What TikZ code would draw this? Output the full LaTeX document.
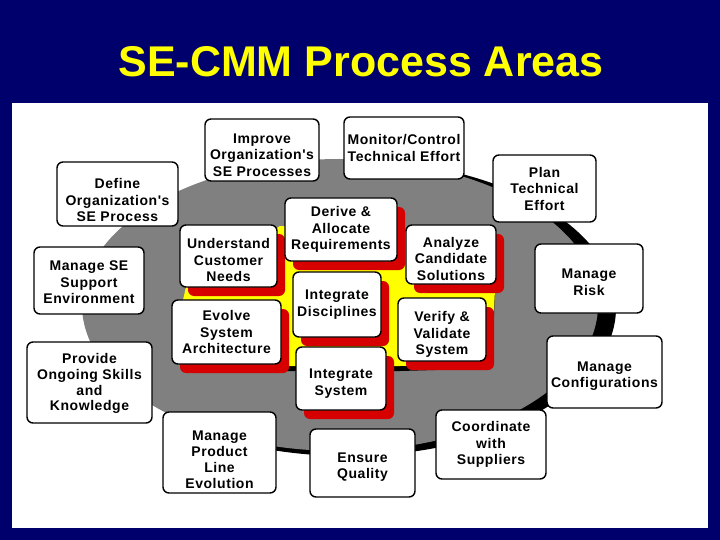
\documentclass[tikz,border=0pt]{standalone}
\usepackage{fontspec}
\setmainfont{Liberation Sans}
\newfontfamily\boxfont{Liberation Sans}[LetterSpace=4]
\usetikzlibrary{shadows}
\definecolor{navy}{RGB}{0,0,108}
\definecolor{blobgray}{RGB}{128,128,128}
\definecolor{shred}{RGB}{214,0,0}
\definecolor{cyel}{RGB}{255,255,0}
\tikzset{
  obox/.style={draw=black, line width=1.4pt, fill=white, rounded corners=6pt,
    inner sep=0pt},
  ibox/.style={obox, drop shadow={shadow xshift=8pt, shadow yshift=-9pt,
    fill=shred, opacity=1}},
  txt/.style={inner sep=0pt, align=center, text=black,
    font=\boxfont\bfseries\fontsize{14}{16.5}\selectfont},
  txttight/.style={txt, font=\boxfont\bfseries\fontsize{14}{15.9}\selectfont},
}
\begin{document}
\begin{tikzpicture}[x=1pt,y=-1pt]
\useasboundingbox (0,0) rectangle (720,540);
\fill[navy] (0,0) rectangle (720,540);
\fill[white] (12,103) rectangle (708,528);
\node[anchor=base, text=cyel, font=\bfseries\fontsize{43}{50}\selectfont] (title) at (361,77) {SE-CMM Process Areas};
% gray blob with dark rim on the right
\begin{scope}
  \clip (250,100) rectangle (710,530);
  \fill[black] (348,308) ellipse [x radius=268, y radius=148];
\end{scope}
\fill[blobgray] (340,305) ellipse [x radius=258, y radius=146];
% yellow core
\fill[black] (280,231) -- (400,233) -- (406,237) -- (495,295) -- (494,315) -- (470,369) -- (400,371) -- (290,371) -- (250,371) -- (183,305) -- (186,292) -- cycle;
\fill[cyel] (280,226) -- (400,228) -- (406,232) -- (495,290) -- (494,310) -- (470,364) -- (400,366) -- (290,366) -- (250,366) -- (183,300) -- (186,287) -- cycle;
% outer process areas
\node[obox, minimum width=114pt, minimum height=62pt] (improve) at (262,150) {};
\node[txt] (improvet) at ([yshift=-5pt]improve.center) {Improve\\Organization's\\SE Processes};
\node[obox, minimum width=120pt, minimum height=62pt] (monitor) at (404,148) {};
\node[txt] (monitort) at (monitor.center) {Monitor/Control\\Technical Effort};
\node[obox, minimum width=121pt, minimum height=64pt] (define) at (117.5,194) {};
\node[txt] (definet) at ([yshift=-6pt]define.center) {Define\\Organization's\\SE Process};
\node[obox, minimum width=103pt, minimum height=67pt] (plan) at (544.5,188.5) {};
\node[txt] (plant) at (plan.center) {Plan\\Technical\\Effort};
\node[obox, minimum width=110pt, minimum height=67pt] (managese) at (89,280.5) {};
\node[txt] (managest) at ([yshift=-2pt]managese.center) {Manage SE\\Support\\Environment};
\node[obox, minimum width=108pt, minimum height=69pt] (risk) at (589,278.5) {};
\node[txt] (riskt) at ([yshift=-4pt]risk.center) {Manage\\Risk};
\node[obox, minimum width=125pt, minimum height=81pt] (provide) at (89.5,382.5) {};
\node[txttight] (providet) at ([yshift=-1pt]provide.center) {Provide\\Ongoing Skills\\and\\Knowledge};
\node[obox, minimum width=115pt, minimum height=72pt] (config) at (604.5,372) {};
\node[txt] (configt) at ([yshift=-4pt]config.center) {Manage\\Configurations};
\node[obox, minimum width=113pt, minimum height=81pt] (product) at (219.5,452.5) {};
\node[txttight] (productt) at ([yshift=-7pt]product.center) {Manage\\Product\\Line\\Evolution};
\node[obox, minimum width=105pt, minimum height=68pt] (ensure) at (362.5,463) {};
\node[txt] (ensuret) at ([yshift=-4pt]ensure.center) {Ensure\\Quality};
\node[obox, minimum width=110pt, minimum height=69pt] (coord) at (491,444.5) {};
\node[txt] (coordt) at (coord.center) {Coordinate\\with\\Suppliers};
% inner engineering process areas
\node[ibox, minimum width=97pt, minimum height=62pt] (understand) at (228.5,256) {};
\node[txt] (understandt) at ([yshift=-4pt]understand.center) {Understand\\Customer\\Needs};
\node[ibox, minimum width=112pt, minimum height=63pt] (derive) at (341,229.5) {};
\node[txt] (derivet) at (derive.center) {Derive \&\\Allocate\\Requirements};
\node[ibox, minimum width=90pt, minimum height=59pt] (analyze) at (451,254.5) {};
\node[txt] (analyzet) at ([yshift=-4pt]analyze.center) {Analyze\\Candidate\\Solutions};
\node[ibox, minimum width=88pt, minimum height=65pt] (intdisc) at (337,304.5) {};
\node[txt] (intdisct) at (intdisc.center) {Integrate\\Disciplines};
\node[ibox, minimum width=109pt, minimum height=64pt] (evolve) at (226.5,332) {};
\node[txt] (evolvet) at (evolve.center) {Evolve\\System\\Architecture};
\node[ibox, minimum width=88pt, minimum height=63pt] (verify) at (442,329.5) {};
\node[txt] (verifyt) at ([yshift=-5pt]verify.center) {Verify \&\\Validate\\System};
\node[ibox, minimum width=90pt, minimum height=63pt] (intsys) at (341,378.5) {};
\node[txt] (intsyst) at ([yshift=-5pt]intsys.center) {Integrate\\System};
\end{tikzpicture}
\end{document}
